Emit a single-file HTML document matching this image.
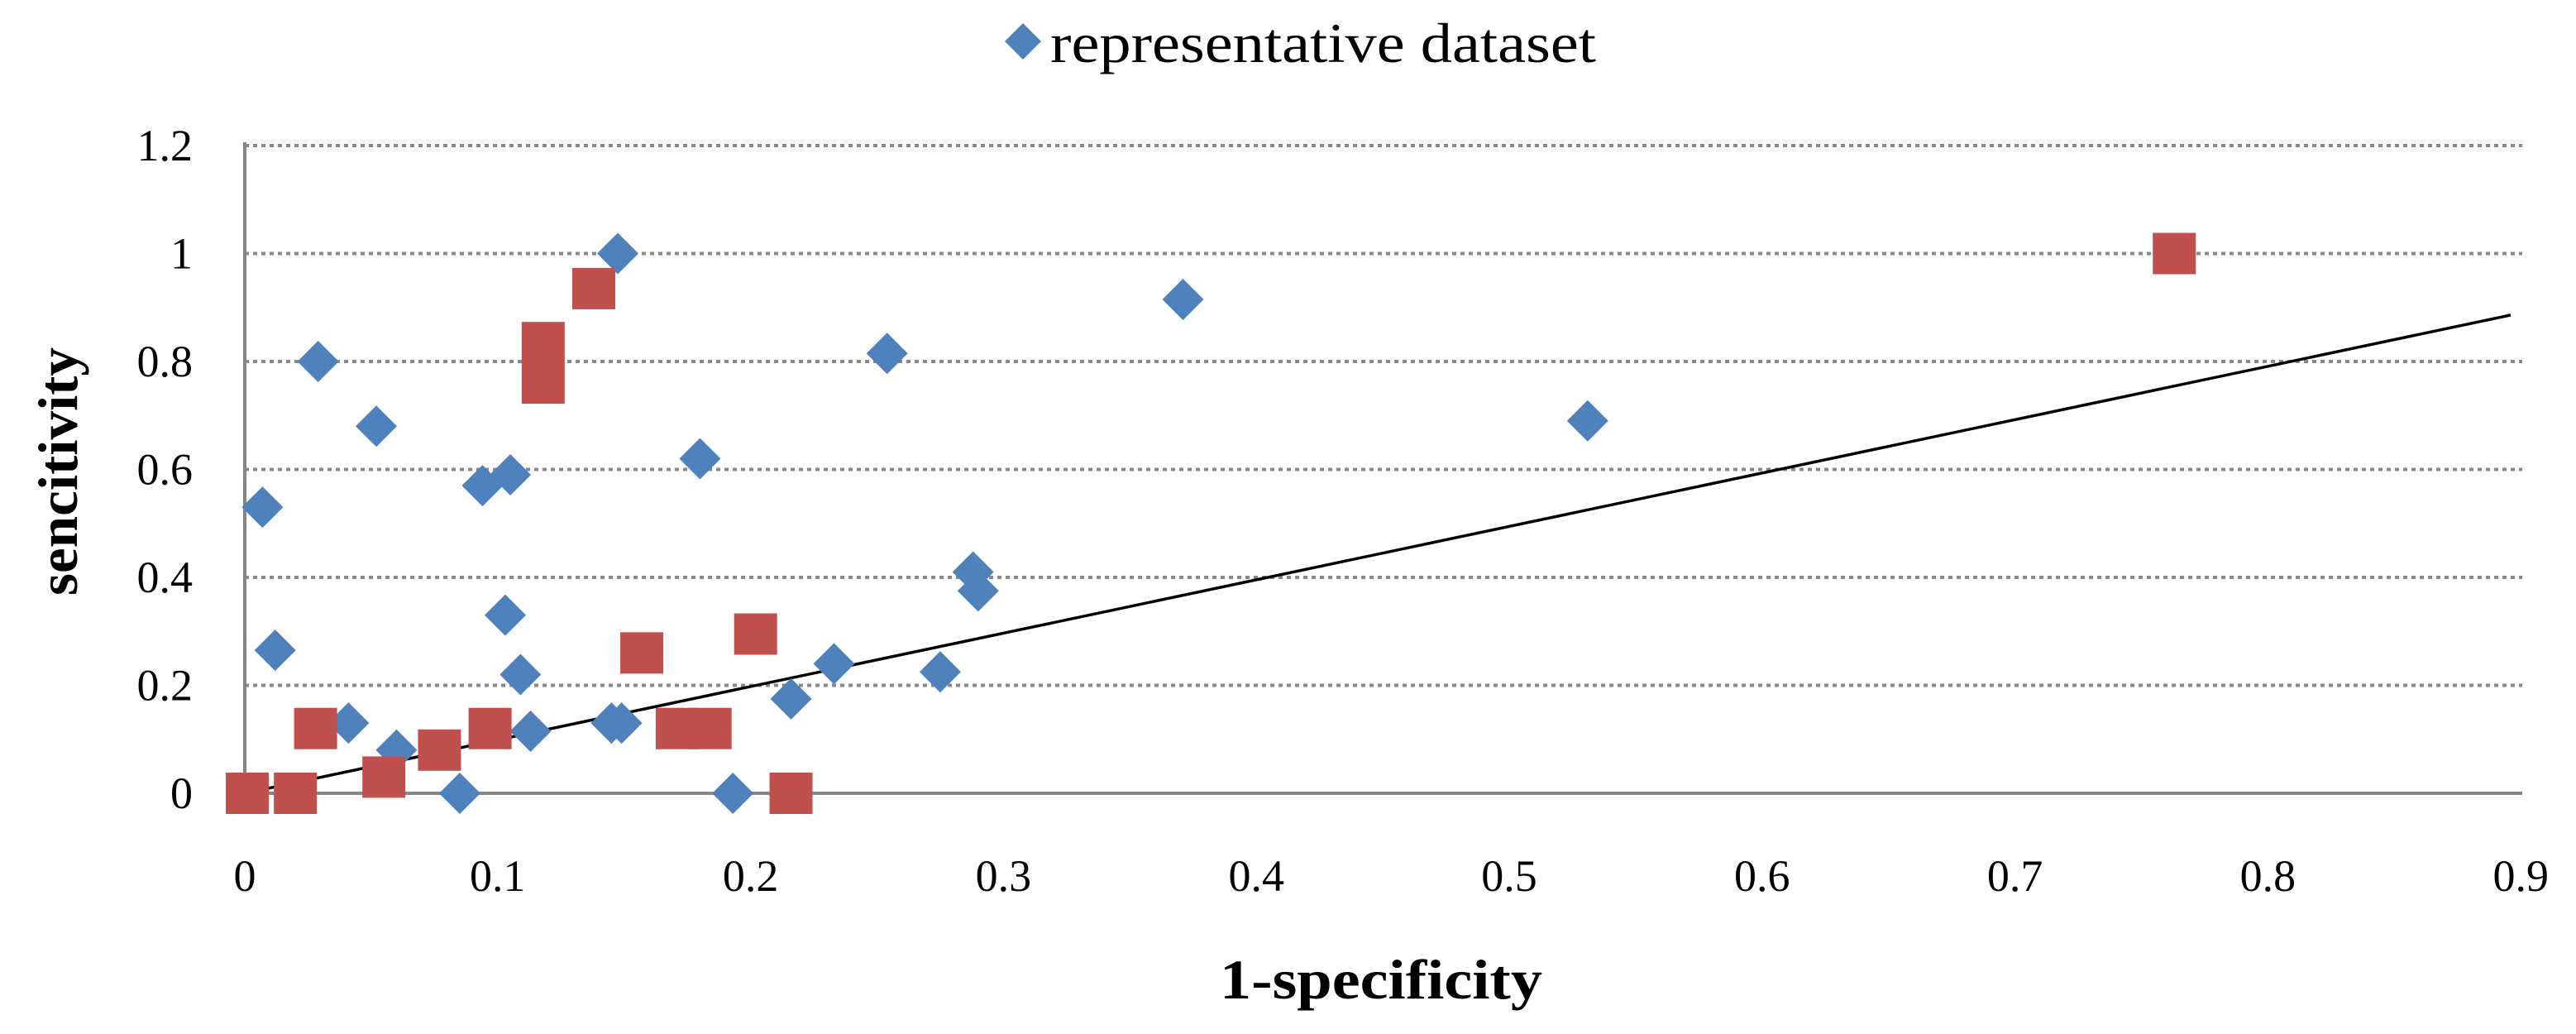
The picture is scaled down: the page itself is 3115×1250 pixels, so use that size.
<!DOCTYPE html>
<html><head><meta charset="utf-8"><style>
html,body{margin:0;padding:0;background:#fff;}
svg{display:block;}
text{font-family:"Liberation Serif",serif;fill:#000;}
</style></head><body>
<svg id="chart" width="3115" height="1250" viewBox="0 0 3115 1250" xmlns="http://www.w3.org/2000/svg">
<g id="grid"></g>
<g id="axes"></g>
<g id="ticks"></g>
<g id="trend"></g>
<g id="blue"></g>
<g id="red"></g>
<g>
  <polygon points="1237,28 1259,50 1237,72 1215,50" fill="#4F81BD"/>
  <text x="1270" y="75" font-size="68" textLength="660" lengthAdjust="spacingAndGlyphs">representative dataset</text>
</g>
<text x="1475" y="1207" font-size="68" font-weight="bold" textLength="390" lengthAdjust="spacingAndGlyphs">1-specificity</text>
<text transform="translate(93,720) rotate(-90)" x="0" y="0" font-size="68" font-weight="bold" textLength="300" lengthAdjust="spacingAndGlyphs">sencitivity</text>
</svg>
<script>
const xTicks = [0,0.1,0.2,0.3,0.4,0.5,0.6,0.7,0.8,0.9];
const xTickLabels = ["0","0.1","0.2","0.3","0.4","0.5","0.6","0.7","0.8","0.9"];
const yTicks = [0,0.2,0.4,0.6,0.8,1,1.2];
const yTickLabels = ["0","0.2","0.4","0.6","0.8","1","1.2"];
const blueX = [0.007,0.012,0.029,0.041,0.052,0.060,0.085,0.094,0.103,0.105,0.109,0.113,0.145,0.149,0.1475,0.180,0.193,0.216,0.233,0.254,0.275,0.288,0.290,0.371,0.531];
const blueY = [0.53,0.265,0.80,0.13,0.68,0.08,0,0.57,0.33,0.59,0.22,0.115,0.13,0.13,1.0,0.62,0,0.175,0.24,0.815,0.225,0.41,0.375,0.915,0.69];
const redX = [0.001,0.020,0.028,0.055,0.077,0.097,0.118,0.118,0.138,0.157,0.171,0.184,0.202,0.216,0.763];
const redY = [0,0,0.12,0.03,0.08,0.12,0.835,0.76,0.935,0.26,0.12,0.12,0.295,0,1.0];
const trendX = [0,0.896];
const trendY = [0,0.886];

const X0=296, XW=3058, Y0=959, YH=652.5;
function sx(v){return X0+v*XW;}
function sy(v){return Y0-v*YH;}
const NS="http://www.w3.org/2000/svg";
function mk(tag,parent,attrs){const e=document.createElementNS(NS,tag);for(const k in attrs)e.setAttribute(k,attrs[k]);document.getElementById(parent).appendChild(e);return e;}

yTicks.forEach((t,i)=>{
  if(t>0){
    const g=mk('line','grid',{x1:X0,x2:3050,y1:sy(t),y2:sy(t),stroke:'#898989','stroke-width':4,'stroke-dasharray':'5 5'});
    
    
  }
  const l=mk('text','ticks',{x:233,y:sy(t)+18,'font-size':54,'text-anchor':'end'});
  l.textContent=yTickLabels[i];
  
  
});
xTicks.forEach((t,i)=>{
  const l=mk('text','ticks',{x:sx(t),y:1077,'font-size':54,'text-anchor':'middle'});
  l.textContent=xTickLabels[i];
  
  
});
const ya=mk('line','axes',{x1:X0,x2:X0,y1:172,y2:961,stroke:'#868686','stroke-width':4});


const xa=mk('line','axes',{x1:X0-2,x2:3050,y1:Y0,y2:Y0,stroke:'#868686','stroke-width':4});



const tl=mk('line','trend',{x1:sx(trendX[0]),y1:sy(trendY[0]),x2:sx(trendX[1]),y2:sy(trendY[1]),stroke:'#000','stroke-width':3.5});



blueX.forEach((x,i)=>{
  const cx=sx(x), cy=sy(blueY[i]);
  const p=mk('polygon','blue',{points:`${cx},${cy-25} ${cx+25},${cy} ${cx},${cy+25} ${cx-25},${cy}`,fill:'#4F81BD'});
  
  
});
redX.forEach((x,i)=>{
  const cx=sx(x), cy=sy(redY[i]);
  const r=mk('rect','red',{x:cx-26,y:cy-25,width:52,height:50,fill:'#C0504D'});
  
  
});
</script>
</body></html>
